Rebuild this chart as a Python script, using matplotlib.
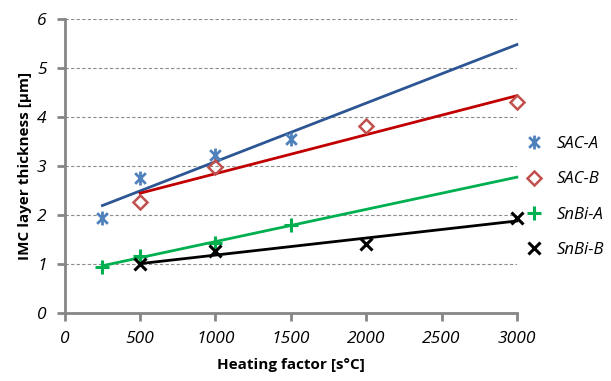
import numpy as np
import matplotlib
matplotlib.use('Agg')
import matplotlib.pyplot as plt
from matplotlib.path import Path

# values
sac_a_x = [250, 500, 1000, 1500]
sac_a_y = [1.94, 2.75, 3.22, 3.56]
sac_b_x = [500, 1000, 2000, 3000]
sac_b_y = [2.26, 2.99, 3.82, 4.30]
snbi_a_x = [250, 500, 1000, 1500]
snbi_a_y = [0.95, 1.17, 1.43, 1.80]
snbi_b_x = [500, 1000, 2000, 3000]
snbi_b_y = [1.00, 1.26, 1.41, 1.94]

# linear trend lines: fitted on each series, drawn from its first x to these ends
trend_start = {'SAC-A': 250, 'SAC-B': 500, 'SnBi-A': 250, 'SnBi-B': 500}
trend_end = 3000

# asterisk marker (x with a vertical bar) like Excel's star
star = Path([(-1, -1), (1, 1), (-1, 1), (1, -1), (0, -1.3), (0, 1.3)],
            [Path.MOVETO, Path.LINETO, Path.MOVETO, Path.LINETO, Path.MOVETO, Path.LINETO])

plt.rcParams['font.family'] = ['Open Sans', 'DejaVu Sans']

fig = plt.figure(figsize=(6.11, 3.81), dpi=100)
ax = fig.add_axes([0.106, 0.178, 0.74, 0.772])

series = [
    ('SAC-A', sac_a_x, sac_a_y, '#4F81BD', '#2C5593', star, 10, 2.0, 'none'),
    ('SAC-B', sac_b_x, sac_b_y, '#C0504D', '#C00000', 'D', 7.5, 1.8, 'none'),
    ('SnBi-A', snbi_a_x, snbi_a_y, '#00B050', '#00B050', '+', 10, 2.2, 'none'),
    ('SnBi-B', snbi_b_x, snbi_b_y, '#000000', '#000000', 'x', 9, 2.2, 'none'),
]

for name, xs, ys, mcol, lcol, mk, ms, mew, fc in series:
    k, b = np.polyfit(xs, ys, 1)
    tx = np.array([trend_start[name], trend_end])
    ax.plot(tx, k * tx + b, color=lcol, lw=2, zorder=2, clip_on=False)
    ax.plot(xs, ys, linestyle='none', marker=mk, markersize=ms,
            markeredgewidth=mew, markeredgecolor=mcol, markerfacecolor=fc,
            color=mcol, label=name, zorder=3, clip_on=False)

ax.set_xlim(0, 3000)
ax.set_ylim(0, 6)
ax.set_xticks(np.arange(0, 3001, 500))
ax.set_yticks(np.arange(0, 7, 1))
ax.yaxis.grid(True, linestyle=(0, (3, 2)), color='#8C8C8C', lw=0.8)
ax.set_axisbelow(True)

for s in ['top', 'right']:
    ax.spines[s].set_visible(False)
for s in ['left', 'bottom']:
    ax.spines[s].set_color('#868686')
    ax.spines[s].set_linewidth(2)
ax.tick_params(colors='#868686', width=2, length=6, labelcolor='black',
               labelsize=12.5, pad=7)
for lab in ax.get_xticklabels() + ax.get_yticklabels():
    lab.set_style('italic')

ax.set_xlabel('Heating factor [s°C]', fontsize=11, fontweight='bold', labelpad=8)
ax.set_ylabel('IMC layer thickness [µm]', fontsize=11, fontweight='bold', labelpad=4)

leg = ax.legend(loc='center left', bbox_to_anchor=(0.98, 0.395), frameon=False,
                handletextpad=0.7, labelspacing=1.15, handlelength=1.3,
                prop={'style': 'italic', 'size': 12})

fig.savefig('out.png', dpi=100)
